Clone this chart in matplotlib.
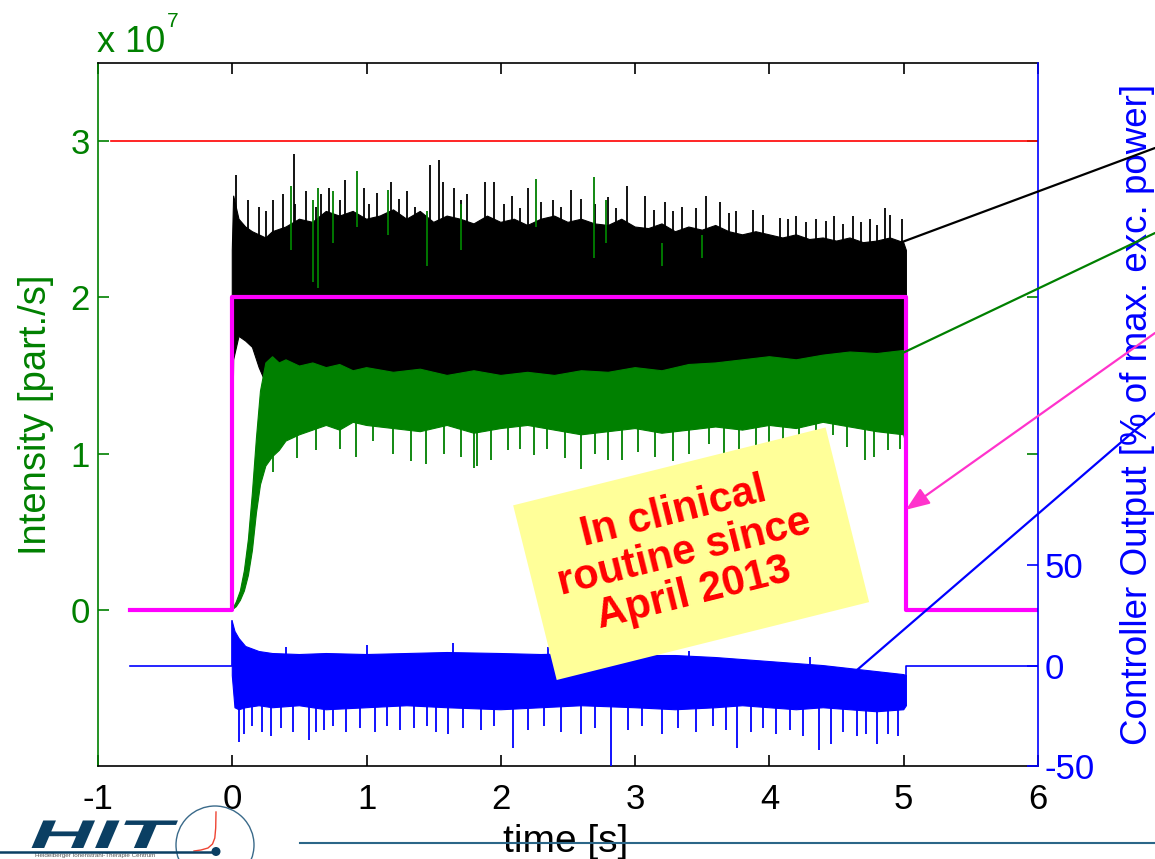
import numpy as np
import matplotlib
matplotlib.use("Agg")
import matplotlib.pyplot as plt
from matplotlib.patches import Rectangle, Circle, PathPatch
from matplotlib.lines import Line2D
from matplotlib.textpath import TextPath
from matplotlib.font_manager import FontProperties
from matplotlib.transforms import Affine2D

plt.rcParams['font.family'] = ['Liberation Sans', 'DejaVu Sans']
plt.rcParams['axes.unicode_minus'] = False

# ---- data (intensity in units of 1e7 part./s, controller output in %) ----
# beam request / limit
red_t = [-0.9, 6.0]
red_v = [3.0, 3.0]
setpoint_t = [-0.76, 0.0, 0.0, 5.02, 5.02, 6.0]
setpoint_v = [0.0, 0.0, 2.0, 2.0, 0.0, 0.0]

# measured intensity without feedback (black): upper / lower envelope
black_t = [0.00, 0.01, 0.05, 0.10, 0.15, 0.20, 0.25, 0.30, 0.40, 0.50, 0.60, 0.70,
           0.80, 0.90, 1.00, 1.10, 1.20, 1.30, 1.40, 1.50, 1.60, 1.70, 1.80, 1.90,
           2.00, 2.10, 2.20, 2.30, 2.40, 2.50, 2.60, 2.70, 2.80, 2.90, 3.00, 3.10,
           3.20, 3.30, 3.40, 3.50, 3.60, 3.70, 3.80, 3.90, 4.00, 4.10, 4.20, 4.30,
           4.40, 4.50, 4.60, 4.70, 4.80, 4.90, 5.00, 5.02]
black_hi = [2.30, 2.65, 2.50, 2.45, 2.42, 2.40, 2.38, 2.42, 2.45, 2.50, 2.48, 2.55,
            2.52, 2.55, 2.50, 2.52, 2.56, 2.50, 2.55, 2.48, 2.52, 2.50, 2.47, 2.52,
            2.48, 2.50, 2.46, 2.50, 2.52, 2.48, 2.50, 2.47, 2.46, 2.50, 2.45, 2.44,
            2.47, 2.42, 2.45, 2.43, 2.46, 2.42, 2.40, 2.42, 2.40, 2.38, 2.40, 2.37,
            2.38, 2.36, 2.38, 2.35, 2.36, 2.38, 2.35, 2.30]
black_lo_t = [0.00, 0.01, 0.05, 0.10, 0.15, 0.20, 0.25, 0.30, 1.00, 2.00, 3.00, 4.00, 5.02]
black_lo = [0.80, 1.60, 1.75, 1.72, 1.68, 1.55, 1.45, 1.40, 1.40, 1.42, 1.40, 1.42, 1.40]
black_spike_t = [0.03, 0.12, 0.20, 0.30, 0.38, 0.456, 0.55, 0.66, 0.72, 0.84, 0.98,
                 1.08, 1.18, 1.30, 1.47, 1.54, 1.57, 1.65, 1.75, 1.88, 1.95, 2.08,
                 2.20, 2.39, 2.52, 2.60, 2.80, 2.94, 3.07, 3.22, 3.35, 3.53, 3.63,
                 3.75, 3.88, 4.08, 4.20, 4.35, 4.48, 4.62, 4.75, 4.86, 4.90, 4.99,
                 0.25, 0.47, 0.62, 0.80, 1.02, 1.24, 1.36, 1.70, 2.02, 2.14, 2.30,
                 2.45, 2.70, 2.86, 3.14, 3.28, 3.45, 3.70, 3.95, 4.14, 4.27, 4.42,
                 4.55, 4.68, 4.80]
black_spike_v = [2.78, 2.62, 2.58, 2.62, 2.66, 2.92, 2.68, 2.66, 2.70, 2.75, 2.70,
                 2.67, 2.74, 2.68, 2.85, 2.88, 2.74, 2.70, 2.66, 2.74, 2.74, 2.65,
                 2.70, 2.62, 2.69, 2.63, 2.64, 2.71, 2.65, 2.61, 2.58, 2.65, 2.61,
                 2.55, 2.56, 2.51, 2.52, 2.50, 2.52, 2.52, 2.50, 2.57, 2.53, 2.50,
                 2.55, 2.60, 2.58, 2.62, 2.60, 2.63, 2.58, 2.62, 2.60, 2.57, 2.61,
                 2.58, 2.60, 2.57, 2.56, 2.55, 2.57, 2.54, 2.53, 2.50, 2.48, 2.49,
                 2.47, 2.48, 2.46]

# measured intensity with feedback (green)
green_t = [0.00, 0.03, 0.06, 0.09, 0.12, 0.15, 0.18, 0.21, 0.25, 0.30, 0.35, 0.40,
           0.50, 0.60, 0.70, 0.80, 0.90, 1.00, 1.20, 1.40, 1.60, 1.80, 2.00, 2.20,
           2.40, 2.60, 2.80, 3.00, 3.20, 3.40, 3.60, 3.80, 4.00, 4.20, 4.40, 4.60,
           4.80, 5.00, 5.02]
green_hi = [0.00, 0.05, 0.12, 0.25, 0.45, 0.75, 1.10, 1.40, 1.58, 1.62, 1.58, 1.60,
            1.56, 1.58, 1.55, 1.57, 1.53, 1.55, 1.52, 1.54, 1.50, 1.53, 1.50, 1.52,
            1.50, 1.53, 1.52, 1.55, 1.53, 1.57, 1.58, 1.60, 1.62, 1.60, 1.63, 1.65,
            1.64, 1.66, 1.60]
green_lo = [0.00, 0.02, 0.06, 0.12, 0.22, 0.38, 0.62, 0.80, 0.92, 0.98, 1.02, 1.08,
            1.12, 1.15, 1.18, 1.15, 1.20, 1.18, 1.16, 1.14, 1.18, 1.13, 1.16, 1.18,
            1.15, 1.12, 1.14, 1.16, 1.13, 1.15, 1.17, 1.15, 1.18, 1.16, 1.20, 1.17,
            1.14, 1.12, 1.05]
# short green excursions showing up inside the black band
green_up_t = [0.44, 0.60, 0.64, 0.75, 0.93, 1.16, 1.45, 1.70, 2.26, 2.69, 2.78, 3.20, 3.50]
green_up_lo = [2.30, 2.10, 2.06, 2.35, 2.45, 2.40, 2.20, 2.30, 2.45, 2.25, 2.35, 2.20, 2.25]
green_up_hi = [2.71, 2.62, 2.70, 2.68, 2.81, 2.69, 2.55, 2.60, 2.76, 2.77, 2.62, 2.35, 2.40]
green_dn_t = [0.30, 0.48, 0.62, 0.80, 0.92, 1.05, 1.20, 1.33, 1.44, 1.58, 1.70, 1.80,
              1.82, 1.93, 2.05, 2.14, 2.25, 2.34, 2.48, 2.60, 2.70, 2.80, 2.90, 3.02,
              3.15, 3.28, 3.40, 3.55, 3.66, 3.77, 3.90, 4.00, 4.10, 4.22, 4.35, 4.47,
              4.58, 4.71, 4.78, 4.88, 4.97]
green_dn_v = [0.88, 0.97, 1.02, 1.03, 0.98, 1.08, 1.00, 0.95, 0.93, 1.00, 0.98, 0.91,
              0.92, 0.96, 1.02, 1.03, 0.99, 1.03, 0.97, 0.90, 1.00, 0.96, 0.96, 1.01,
              0.98, 0.95, 1.00, 1.06, 0.99, 1.03, 1.01, 1.05, 1.08, 1.02, 1.06, 1.12,
              1.04, 0.96, 0.98, 1.02, 1.03]

# controller output (blue, right axis)
ctrl_base_l_t = [-0.76, 0.0, 0.0]
ctrl_base_l_v = [0.0, 0.0, 22.0]
ctrl_base_r_t = [5.02, 5.02, 6.0]
ctrl_base_r_v = [-5.0, 0.0, 0.0]
ctrl_t = [0.00, 0.02, 0.05, 0.10, 0.20, 0.30, 0.50, 0.70, 1.00, 1.30, 1.60, 2.00,
          2.30, 2.60, 3.00, 3.30, 3.60, 3.80, 4.00, 4.20, 4.40, 4.60, 4.80, 5.00, 5.02]
ctrl_hi = [22.0, 17.0, 13.5, 9.5, 7.0, 6.0, 5.5, 6.0, 5.5, 6.0, 6.5, 6.0,
           5.5, 6.0, 5.0, 5.0, 4.0, 3.0, 2.0, 1.0, 0.0, -1.5, -3.0, -4.5, -5.0]
ctrl_lo = [-5.0, -21.0, -22.0, -21.0, -20.0, -21.0, -20.0, -22.0, -21.0, -20.0, -21.0, -22.0,
           -21.0, -20.0, -21.0, -22.0, -21.0, -20.0, -21.0, -22.0, -21.0, -22.0, -23.0, -22.0, -20.0]
ctrl_dn_t = [0.05, 0.09, 0.15, 0.22, 0.29, 0.36, 0.45, 0.57, 0.62, 0.68, 0.75, 0.85,
             0.95, 1.06, 1.15, 1.25, 1.35, 1.45, 1.52, 1.61, 1.72, 1.85, 1.95, 2.09,
             2.20, 2.32, 2.45, 2.60, 2.70, 2.82, 2.95, 3.05, 3.20, 3.32, 3.45, 3.58,
             3.68, 3.76, 3.86, 3.95, 4.05, 4.15, 4.25, 4.37, 4.46, 4.55, 4.65, 4.72,
             4.80, 4.88, 4.96]
ctrl_dn_v = [-38, -34, -30, -33, -35, -31, -33, -37, -33, -32, -30, -33,
             -31, -33, -30, -32, -31, -30, -33, -34, -31, -32, -30, -41,
             -32, -30, -33, -34, -31, -50, -32, -30, -34, -31, -33, -30,
             -32, -41, -33, -31, -34, -32, -35, -42, -39, -33, -35, -34,
             -39, -34, -35]
ctrl_up_t = [0.40, 1.00, 1.64, 2.35, 2.90, 3.40, 4.30]
ctrl_up_v = [9.0, 10.0, 11.0, 9.0, 8.0, 7.5, 4.5]

xticks = [-1, 0, 1, 2, 3, 4, 5, 6]
yticks_left = [0, 1, 2, 3]
yticks_right = [-50, 0, 50]

GREEN = '#008000'
BLUE = '#0000ff'
MAGENTA = '#ff00ff'
RED = '#ff0000'
NAVY = '#0b3f63'

W, H, DPI = 1155, 859, 100
fig = plt.figure(figsize=(W / DPI, H / DPI), dpi=DPI)
px = Affine2D().scale(1 / DPI) + fig.dpi_scale_trans   # figure pixels, origin bottom-left

ax = fig.add_axes([98 / W, (H - 766) / H, 940 / W, 703 / H])
ax2 = ax.twinx()

# intensity traces
ax.fill(np.r_[black_t, black_lo_t[::-1]], np.r_[black_hi, black_lo[::-1]],
        color='k', lw=0.8)
ax.vlines(black_spike_t, 2.2, black_spike_v, color='k', lw=1.3)
ax.fill(np.r_[green_t, green_t[::-1]], np.r_[green_hi, green_lo[::-1]],
        color=GREEN, lw=0.8)
ax.vlines(green_up_t, green_up_lo, green_up_hi, color=GREEN, lw=1.3)
ax.vlines(green_dn_t, 1.25, green_dn_v, color=GREEN, lw=1.3)
ax.plot(red_t, red_v, color=RED, lw=1.2)
ax.plot(setpoint_t, setpoint_v, color=MAGENTA, lw=3.0)

# controller output
ax2.plot(ctrl_base_l_t, ctrl_base_l_v, color=BLUE, lw=1.2)
ax2.plot(ctrl_base_r_t, ctrl_base_r_v, color=BLUE, lw=1.2)
ax2.fill(np.r_[ctrl_t, ctrl_t[::-1]], np.r_[ctrl_hi, ctrl_lo[::-1]], color=BLUE, lw=0.8)
ax2.vlines(ctrl_dn_t, -15, ctrl_dn_v, color=BLUE, lw=1.3)
ax2.vlines(ctrl_up_t, 0, ctrl_up_v, color=BLUE, lw=1.3)

ax.set_xlim(-1, 6)
ax.set_ylim(-1.0, 3.5)
ax2.set_ylim(-50, 300)
ax.set_xticks(xticks)
ax.set_yticks(yticks_left)
ax2.set_yticks(yticks_right)

ax.tick_params(direction='in', length=8, width=1.2, labelsize=25)
ax.tick_params(axis='x', top=True, pad=12, colors='k')
ax.tick_params(axis='y', right=True, labelright=False, pad=6, colors=GREEN)
ax2.tick_params(axis='y', direction='in', length=8, width=1.2, labelsize=25,
                pad=4.5, colors=BLUE)

ax.spines['left'].set_color(GREEN)
ax.spines['right'].set_visible(False)
for s in ('left', 'top', 'bottom'):
    ax2.spines[s].set_visible(False)
ax2.spines['right'].set_color(BLUE)
for s in ax.spines.values():
    s.set_linewidth(1.2)
ax2.spines['right'].set_linewidth(1.2)

ax.set_xlabel('time [s]', fontsize=28)
ax.xaxis.set_label_coords(0.497, -0.082)
ax.set_ylabel('Intensity [part./s]', fontsize=27.5, color=GREEN)
ax.yaxis.set_label_coords(-0.047, 0.5)
ax2.set_ylabel('Controller Output [% of max. exc. power]', fontsize=26.5, color=BLUE)
ax2.yaxis.set_label_coords(1.087, 0.5)

fig.text(97, H - 52, 'x 10', transform=px, fontsize=26, color=GREEN, va='baseline')
fig.text(167, H - 27, '7', transform=px, fontsize=15, color=GREEN, va='baseline')

# pointer lines from the legend area on the right
line_kw = dict(textcoords='figure pixels', annotation_clip=False)
ax2.annotate('', xy=(4.897, 2.325), xycoords=ax.transData, xytext=(1155, H - 148),
             arrowprops=dict(arrowstyle='-', color='k', lw=1.6, shrinkA=0, shrinkB=0), **line_kw)
ax2.annotate('', xy=(4.934, 1.62), xycoords=ax.transData, xytext=(1155, H - 233),
             arrowprops=dict(arrowstyle='-', color=GREEN, lw=1.6, shrinkA=0, shrinkB=0), **line_kw)
ax2.annotate('', xy=(5.016, 0.64), xycoords=ax.transData, xytext=(1155, H - 333),
             arrowprops=dict(arrowstyle='-|>,head_length=0.9,head_width=0.35', color='#ff33cc',
                             lw=1.6, shrinkA=0, shrinkB=0, mutation_scale=16), **line_kw)
ax2.annotate('', xy=(4.635, -3.2), xytext=(1155, H - 413),
             arrowprops=dict(arrowstyle='-', color=BLUE, lw=1.6, shrinkA=0, shrinkB=0), **line_kw)

# sticky note
fig.add_artist(Rectangle((556.7, H - 680), 322, 180, angle=14, transform=px,
                         facecolor='#ffff99', edgecolor='none', zorder=5))
fig.text(684.0, H - 553.0, 'In clinical\nroutine since\nApril 2013', transform=px,
         rotation=14, rotation_mode='anchor', ha='center', va='center',
         multialignment='center', fontsize=30, fontweight='bold', color=RED,
         linespacing=1.05, zorder=6)

# footer rule
fig.add_artist(Line2D([300, 1155], [H - 843, H - 843], transform=px,
                      color='#2b6688', lw=1.5, zorder=10))

# HIT logo
hit = TextPath((0, 0), 'HIT', size=40,
               prop=FontProperties(family='Liberation Sans', weight='bold', style='italic'))
fig.add_artist(PathPatch(hit, transform=Affine2D().scale(2.2, 1.0).translate(30, H - 848) + px,
                         facecolor=NAVY, edgecolor='none', zorder=10))
fig.add_artist(Circle((215, H - 845), 39, transform=px, fill=False,
                      edgecolor='#3a6a8a', lw=1.0, zorder=10))
fig.add_artist(Line2D([216, 215.7, 214.8, 212.5, 208, 201, 194],
                      [H - 812, H - 828, H - 838, H - 844, H - 848, H - 850, H - 851],
                      transform=px, color='#ee4433', lw=1.0, zorder=10))
fig.add_artist(Line2D([0, 216], [H - 851.5, H - 851.5], transform=px,
                      color=NAVY, lw=1.8, zorder=10))
fig.add_artist(Circle((216, H - 851.5), 4.5, transform=px, facecolor=NAVY,
                      edgecolor='none', zorder=11))
fig.text(35, H - 857.5, 'Heidelberger Ionenstrahl-Therapie Centrum', transform=px,
         fontsize=4.5, color='#555555', va='baseline')

fig.savefig('out.png', dpi=DPI)
